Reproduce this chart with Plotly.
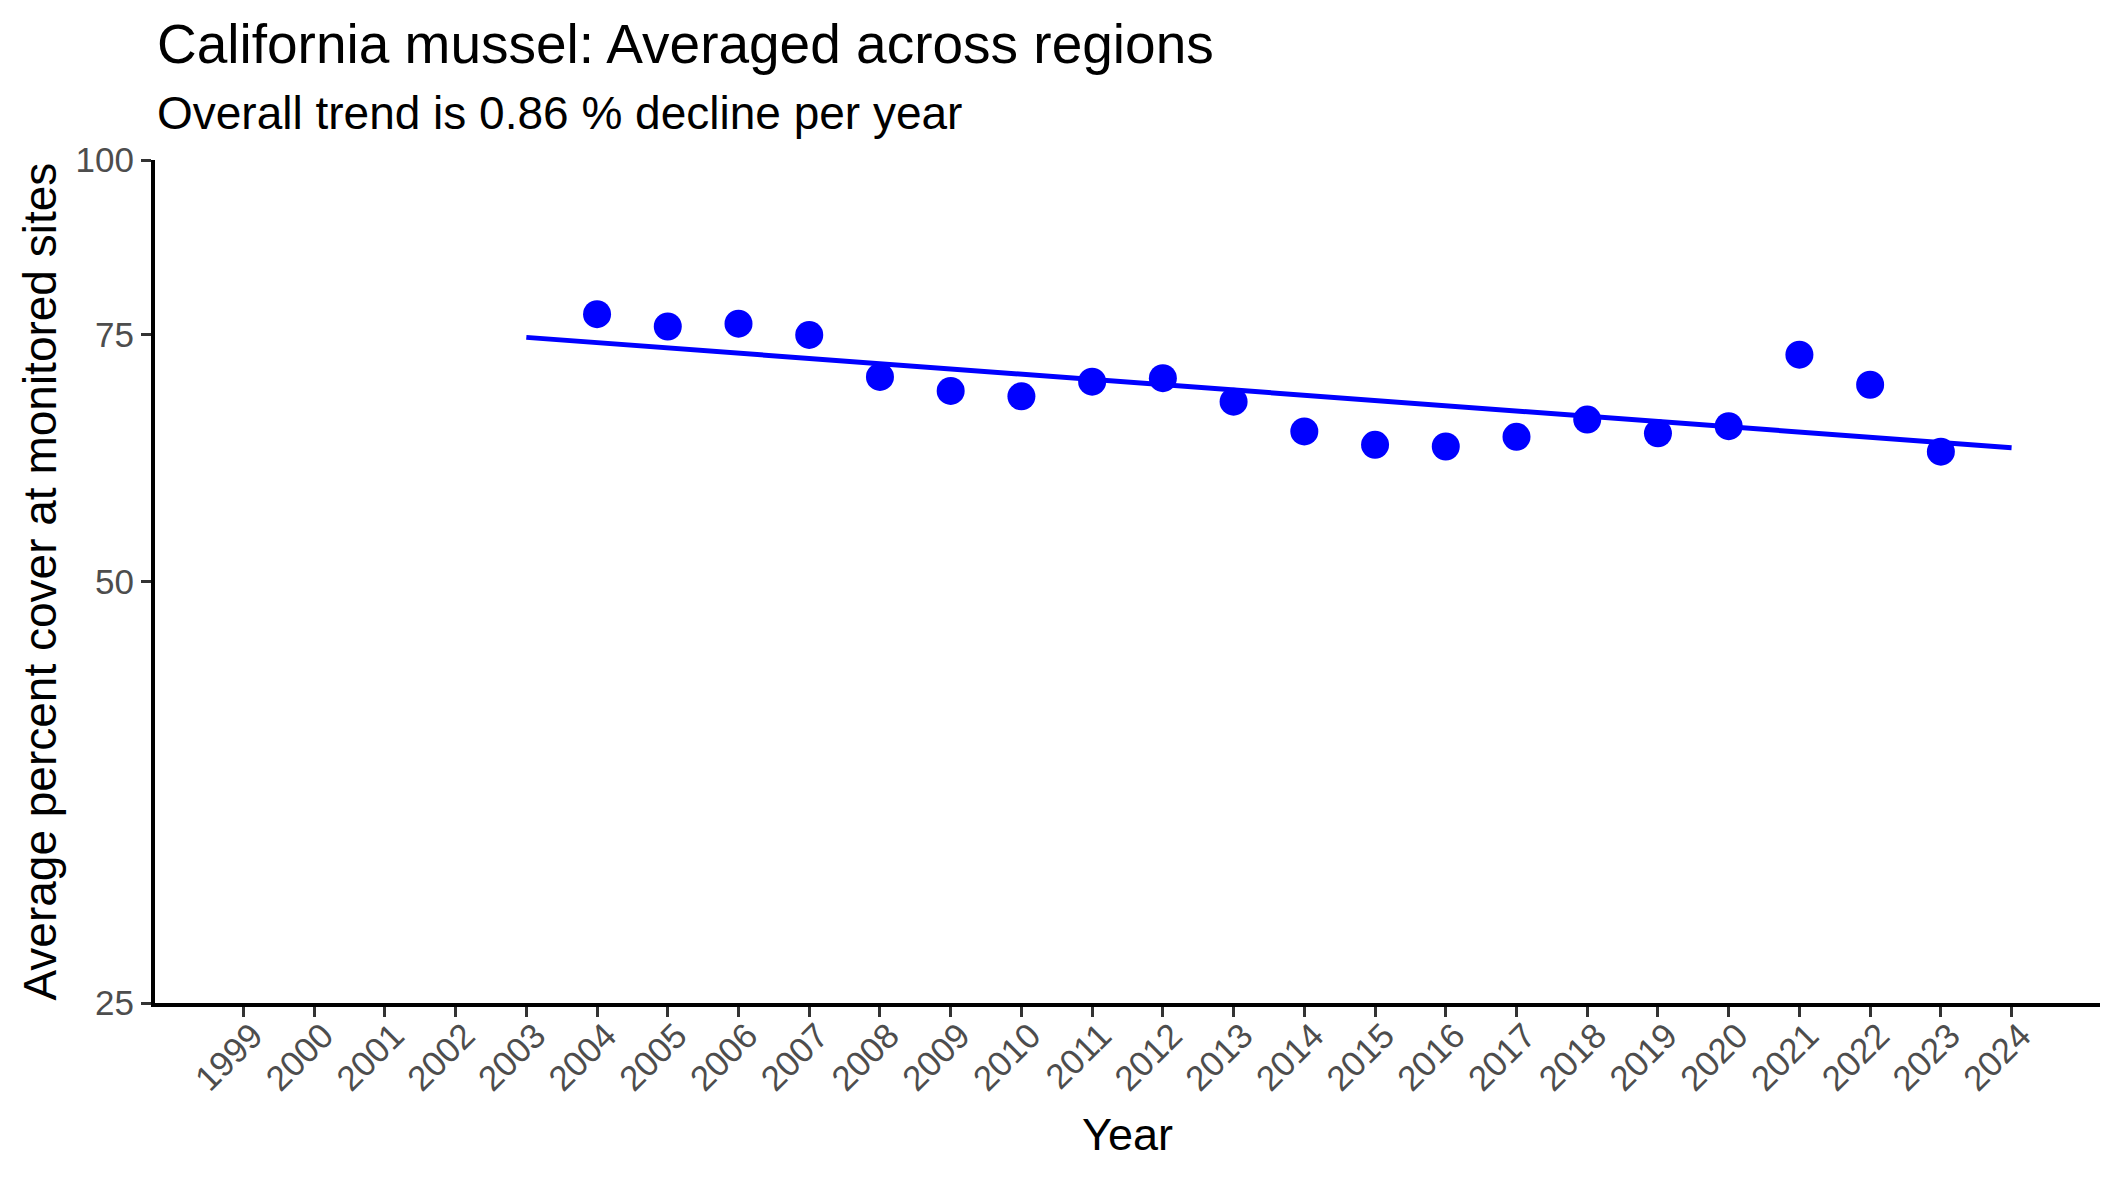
import plotly.graph_objects as go
import math

# ---- data ----
years = [2004, 2005, 2006, 2007, 2008, 2009, 2010, 2011, 2012, 2013,
         2014, 2015, 2016, 2017, 2018, 2019, 2020, 2021, 2022, 2023]
cover = [77.6, 76.05, 76.4, 75.0, 70.0, 68.4, 67.8, 69.45, 69.85, 67.2,
         64.0, 62.6, 62.43, 63.43, 65.25, 63.8, 64.55, 72.6, 69.1, 61.9]
trend_years = [2003, 2024]
trend_values = [74.7, 62.3]
x_tick_years = list(range(1999, 2025))
y_tick_values = [25, 50, 75, 100]
y_limits = [25, 100]

title_text = "California mussel: Averaged across regions"
subtitle_text = "Overall trend is 0.86 % decline per year"
x_title = "Year"
y_title = "Average percent cover at monitored sites"

FONT = "Liberation Sans, Arial, Helvetica, sans-serif"
BLUE = "#0000FF"

fig = go.Figure()
fig.add_trace(go.Scatter(
    x=trend_years, y=trend_values, mode="lines",
    line=dict(color=BLUE, width=5), showlegend=False, hoverinfo="skip"))
fig.add_trace(go.Scatter(
    x=years, y=cover, mode="markers",
    marker=dict(color=BLUE, size=28, line=dict(width=0)),
    showlegend=False, cliponaxis=False))

W, H = 2125, 1181
L, R, T, B = 155, 25, 160, 178

fig.update_layout(
    width=W, height=H,
    margin=dict(l=L, r=R, t=T, b=B, pad=0),
    paper_bgcolor="white", plot_bgcolor="white",
    font=dict(family=FONT, color="black"),
    showlegend=False,
)

fig.update_xaxes(
    range=[1997.75, 2025.25],
    tickmode="array", tickvals=x_tick_years,
    ticktext=[str(y) for y in x_tick_years],
    tickangle=-45,
    ticklabelstandoff=-16,
    ticklabelshift=9,
    tickfont=dict(family=FONT, size=35, color="#4D4D4D"),
    ticks="outside", ticklen=10, tickwidth=3, tickcolor="#333333",
    showline=True, linecolor="black", linewidth=4,
    showgrid=False, zeroline=False,
)
fig.update_yaxes(
    type="log",
    range=[math.log10(y_limits[0]), math.log10(y_limits[1])],
    tickmode="array", tickvals=y_tick_values,
    ticktext=[str(v) for v in y_tick_values],
    tickfont=dict(family=FONT, size=35, color="#4D4D4D"),
    ticks="outside", ticklen=10, tickwidth=3, tickcolor="#333333",
    showline=True, linecolor="black", linewidth=4,
    showgrid=False, zeroline=False,
)

panel_h = H - T - B
panel_w = W - L - R

def py(pix):
    return (H - B - pix) / panel_h

def px(pix):
    return (pix - L) / panel_w

fig.add_annotation(text=title_text, xref="paper", yref="paper",
                   x=px(155), y=py(44), xanchor="left", yanchor="middle",
                   showarrow=False, font=dict(family=FONT, size=55, color="black"))
fig.add_annotation(text=subtitle_text, xref="paper", yref="paper",
                   x=px(155), y=py(113), xanchor="left", yanchor="middle",
                   showarrow=False, font=dict(family=FONT, size=46, color="black"))
fig.add_annotation(text=x_title, xref="paper", yref="paper",
                   x=0.5, y=py(1134), xanchor="center", yanchor="middle",
                   showarrow=False, font=dict(family=FONT, size=45, color="black"))
fig.add_annotation(text=y_title, xref="paper", yref="paper",
                   x=px(39), y=0.5, xanchor="center", yanchor="middle",
                   textangle=-90,
                   showarrow=False, font=dict(family=FONT, size=46, color="black"))

fig.write_html("out.html")
